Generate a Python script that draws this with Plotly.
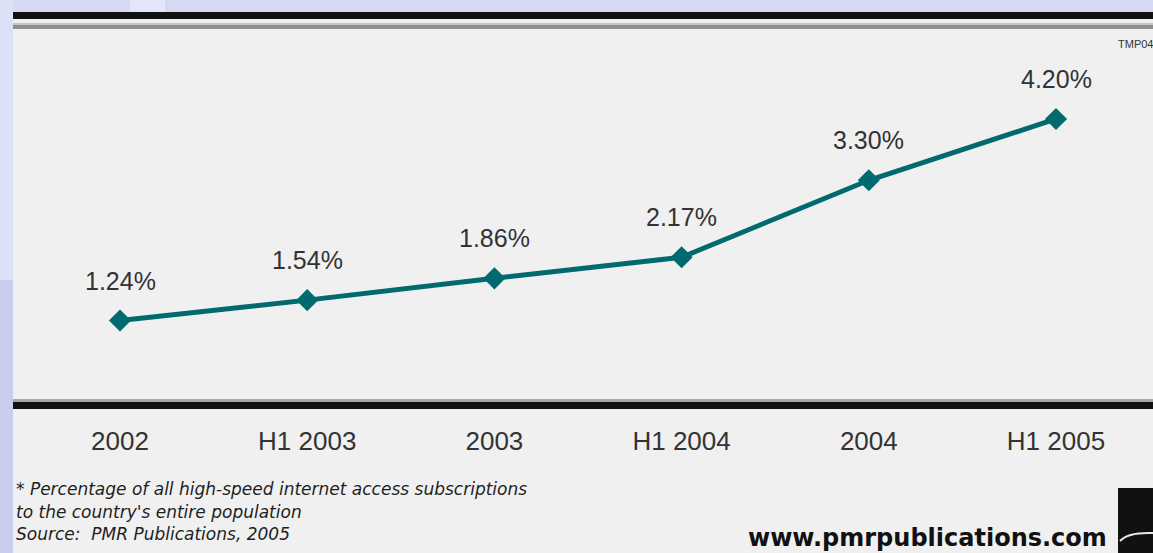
import plotly.graph_objects as go

# ---- data ----
categories = ["2002", "H1 2003", "2003", "H1 2004", "2004", "H1 2005"]
penetration = [1.24, 1.54, 1.86, 2.17, 3.30, 4.20]
value_labels = ["1.24%", "1.54%", "1.86%", "2.17%", "3.30%", "4.20%"]
footnote_lines = [
    "* Percentage of all high-speed internet access subscriptions",
    "to the country's entire population",
    "Source:  PMR Publications, 2005",
]
website = "www.pmrpublications.com"
code_label = "TMP04"

W, H = 1153, 553
ML, MR, MT, MB = 13, 0, 29, 148
PH = H - MT - MB
PW = W - ML - MR


def py(p):
    """pixel row -> paper y"""
    return (H - MB - p) / PH


def px(p):
    """pixel column -> paper x"""
    return (p - ML) / PW


TEAL = "#006a6e"

fig = go.Figure()
fig.add_trace(go.Scatter(
    x=list(range(len(categories))),
    y=penetration,
    mode="lines+markers",
    line=dict(color=TEAL, width=5),
    marker=dict(symbol="diamond", size=17, color=TEAL),
    hoverinfo="skip",
    showlegend=False,
))

annotations = []
for i, (v, lab) in enumerate(zip(penetration, value_labels)):
    annotations.append(dict(
        x=i, y=v, xref="x", yref="y", text=lab, showarrow=False,
        yshift=40, yanchor="middle", xanchor="center",
        font=dict(family="Liberation Sans, Arial", size=25, color="#333333"),
    ))

for k, line in enumerate(footnote_lines):
    annotations.append(dict(
        x=px(14), y=py(489 + 22.5 * k), xref="paper", yref="paper",
        text=f"<i>{line}</i>",
        showarrow=False, xanchor="left", yanchor="middle", align="left",
        font=dict(family="DejaVu Sans", size=17, color="#1e1e1e"),
    ))
annotations.append(dict(
    x=px(1109), y=py(538), xref="paper", yref="paper",
    text=f"<b>{website}</b>", showarrow=False, xanchor="right", yanchor="middle",
    font=dict(family="DejaVu Sans", size=24, color="#111111"),
))
annotations.append(dict(
    x=px(1116), y=py(44), xref="paper", yref="paper",
    text=code_label, showarrow=False, xanchor="left", yanchor="middle",
    font=dict(family="Liberation Sans, Arial", size=11, color="#333333"),
))

shapes = [
    # lavender side strips (subtle gradient)
    dict(type="rect", xref="paper", yref="paper", x0=px(0), x1=px(13), y0=py(0), y1=py(280),
         fillcolor="#dde1f6", line=dict(width=0), layer="below"),
    dict(type="rect", xref="paper", yref="paper", x0=px(0), x1=px(13), y0=py(280), y1=py(553),
         fillcolor="#c9ceef", line=dict(width=0), layer="below"),
    dict(type="rect", xref="paper", yref="paper", x0=px(130), x1=px(165), y0=py(0), y1=py(12),
         fillcolor="#e2e6f8", line=dict(width=0), layer="below"),
    # gray panel
    dict(type="rect", xref="paper", yref="paper", x0=px(13), x1=px(1153), y0=py(12), y1=py(553),
         fillcolor="#f0f0f0", line=dict(width=0), layer="below"),
    # top black band
    dict(type="rect", xref="paper", yref="paper", x0=px(13), x1=px(1153), y0=py(12), y1=py(19),
         fillcolor="#111114", line=dict(width=0), layer="below"),
    # top gray rule
    dict(type="rect", xref="paper", yref="paper", x0=px(13), x1=px(1153), y0=py(23), y1=py(25),
         fillcolor="#c4c4c4", line=dict(width=0), layer="below"),
    dict(type="rect", xref="paper", yref="paper", x0=px(13), x1=px(1153), y0=py(25), y1=py(29),
         fillcolor="#8e8e8e", line=dict(width=0), layer="below"),
    # bottom axis band
    dict(type="rect", xref="paper", yref="paper", x0=px(13), x1=px(1153), y0=py(399), y1=py(402),
         fillcolor="#a8a8a8", line=dict(width=0), layer="below"),
    dict(type="rect", xref="paper", yref="paper", x0=px(13), x1=px(1153), y0=py(402), y1=py(409),
         fillcolor="#111114", line=dict(width=0), layer="below"),
    # logo block
    dict(type="rect", xref="paper", yref="paper", x0=px(1118), x1=px(1153), y0=py(488), y1=py(553),
         fillcolor="#111114", line=dict(width=0), layer="above"),
    dict(type="path", xref="paper", yref="paper",
         path=(f"M {px(1120)},{py(541)} Q {px(1128)},{py(532)} {px(1153)},{py(533)}"),
         line=dict(color="#e8e8e8", width=2), layer="above"),
]

fig.update_layout(
    width=W, height=H,
    margin=dict(l=ML, r=MR, t=MT, b=MB, pad=0),
    paper_bgcolor="#d5daf2",
    plot_bgcolor="rgba(0,0,0,0)",
    xaxis=dict(
        range=[-(120 - ML) / 187.2, 5 + (1153 - 1056) / 187.2],
        tickmode="array", tickvals=list(range(len(categories))), ticktext=categories,
        showgrid=False, zeroline=False, showline=False,
        ticks="outside", ticklen=13, tickcolor="rgba(0,0,0,0)",
        tickfont=dict(family="Liberation Sans, Arial", size=26, color="#333333"),
        fixedrange=True,
    ),
    yaxis=dict(range=[0, (405 - MT) / 68.1], visible=False, fixedrange=True),
    annotations=annotations,
    shapes=shapes,
)

fig.write_html(
    "out.html",
    config={"displayModeBar": False},
    post_script="document.body.style.margin='0';document.body.style.overflow='hidden';",
)
